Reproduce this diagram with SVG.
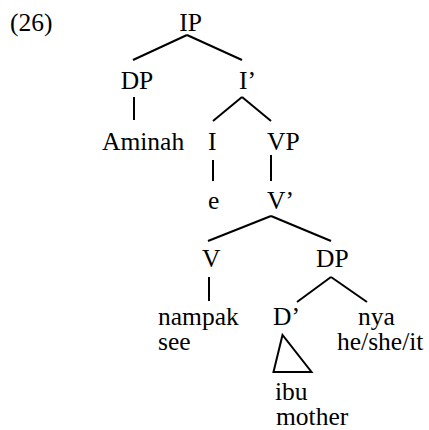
<svg xmlns="http://www.w3.org/2000/svg" width="429" height="430" viewBox="0 0 429 430">
  <style>
    text { font-family: "Liberation Serif", "Times New Roman", serif; font-size: 25.5px; fill: #000; }
    .edge { stroke: #000; stroke-width: 2; fill: none; stroke-linecap: butt; }
  </style>
  <rect width="429" height="430" fill="#fff"/>

  <!-- example number -->
  <text x="10" y="31">(26)</text>

  <!-- tree branches -->
  <g id="connectors">
    <line class="edge" x1="187" y1="35" x2="133" y2="60"/>
    <line class="edge" x1="187" y1="35" x2="242" y2="60"/>
    <line class="edge" x1="134" y1="97" x2="134" y2="120"/>
    <line class="edge" x1="242" y1="97" x2="213" y2="121"/>
    <line class="edge" x1="242" y1="97" x2="271" y2="121"/>
    <line class="edge" x1="213" y1="160" x2="213" y2="181"/>
    <line class="edge" x1="271" y1="155" x2="271" y2="181"/>
    <line class="edge" x1="271" y1="216" x2="208" y2="241"/>
    <line class="edge" x1="271" y1="216" x2="331" y2="241"/>
    <line class="edge" x1="209" y1="277" x2="209" y2="301"/>
    <line class="edge" x1="331" y1="277" x2="297" y2="302"/>
    <line class="edge" x1="331" y1="277" x2="367" y2="302"/>
    <polygon class="edge" points="282.5,335 273.5,372 311.5,372"/>
  </g>

  <g id="IP"><text x="190.5" y="31" text-anchor="middle">IP</text></g>
  <g id="DP1"><text x="137" y="89" text-anchor="middle">DP</text></g>
  <g id="Ibar"><text x="239" y="89">I’</text></g>
  <g id="Aminah"><text x="102" y="150">Aminah</text></g>
  <g id="I"><text x="208" y="150">I</text></g>
  <g id="VP"><text x="267" y="150">VP</text></g>
  <g id="e"><text x="208" y="209">e</text></g>
  <g id="Vbar"><text x="267" y="209">V’</text></g>
  <g id="V"><text x="202" y="267">V</text></g>
  <g id="DP2"><text x="316" y="267">DP</text></g>
  <g id="nampak">
    <text x="158" y="325">nampak</text>
    <text x="158" y="350">see</text>
  </g>
  <g id="Dbar"><text x="273" y="325">D’</text></g>
  <g id="nya">
    <text x="358" y="325">nya</text>
    <text x="337" y="350">he/she/it</text>
  </g>
  <g id="ibu">
    <text x="275" y="400">ibu</text>
    <text x="276" y="425">mother</text>
  </g>
</svg>
